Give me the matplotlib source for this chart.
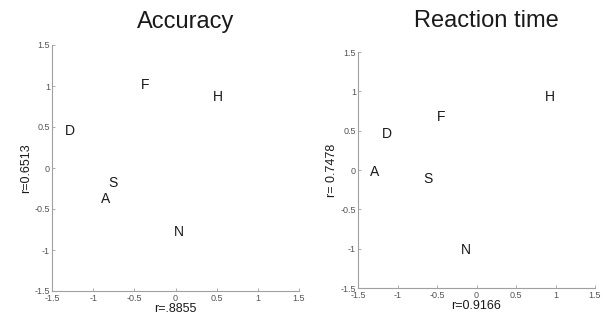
import matplotlib
matplotlib.use("Agg")
import matplotlib.pyplot as plt

plt.rcParams['font.family'] = ['Liberation Sans', 'DejaVu Sans']

labels = ["A", "D", "F", "H", "N", "S"]
acc_x = [-0.85, -1.28, -0.37, 0.52, 0.04, -0.76]
acc_y = [-0.38, 0.45, 1.01, 0.87, -0.78, -0.18]
rt_x = [-1.29, -1.13, -0.45, 0.93, -0.13, -0.61]
rt_y = [-0.02, 0.46, 0.67, 0.93, -1.02, -0.12]
ticks = [-1.5, -1, -0.5, 0, 0.5, 1, 1.5]
tick_labels = ["-1.5", "-1", "-0.5", "0", "0.5", "1", "1.5"]

panels = [
    ("Accuracy", acc_x, acc_y, "r=.8855", "r=0.6513", [52, 45, 299, 291], 12),
    ("Reaction time", rt_x, rt_y, "r=0.9166", "r= 0.7478", [358, 52, 595, 288], 18),
]

W, H = 605, 326
fig = plt.figure(figsize=(W / 100, H / 100), dpi=100)
grey = "#a0a0a0"
for title, xs, ys, xl, yl, (x0, y0, x1, y1), tpad in panels:
    ax = fig.add_axes([x0 / W, 1 - y1 / H, (x1 - x0) / W, (y1 - y0) / H])
    ax.set_xlim(-1.5, 1.5)
    ax.set_ylim(-1.5, 1.5)
    for lab, x, y in zip(labels, xs, ys):
        ax.text(x, y, lab, ha="center", va="center", fontsize=10, color="#1a1a1a")
    ax.set_xticks(ticks)
    ax.set_xticklabels(tick_labels)
    ax.set_yticks(ticks)
    ax.set_yticklabels(tick_labels)
    ax.tick_params(direction="in", length=2.5, width=0.6, colors=grey,
                   labelsize=6.5, labelcolor="#555555", pad=1.5)
    ax.tick_params(axis="x", pad=2.5)
    for s in ["top", "right"]:
        ax.spines[s].set_visible(False)
    for s in ["left", "bottom"]:
        ax.spines[s].set_color(grey)
        ax.spines[s].set_linewidth(0.8)
    ax.set_xlabel(xl, fontsize=9, color="#1a1a1a", labelpad=0)
    ax.set_ylabel(yl, fontsize=9, color="#1a1a1a", labelpad=2)
    ax.set_title(title, fontsize=17, color="#1a1a1a", pad=tpad, x=0.54)

fig.savefig("out.png", dpi=100, facecolor="white")
